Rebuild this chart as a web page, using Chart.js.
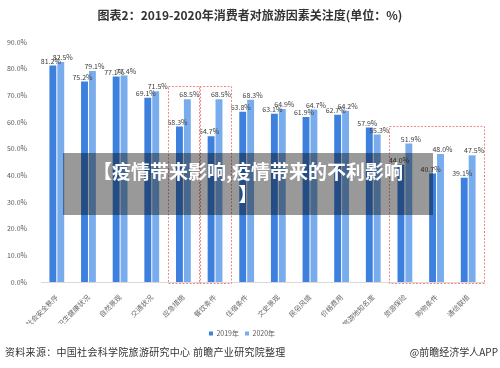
<!DOCTYPE html>
<html>
<head>
<meta charset="utf-8">
<script src="https://cdn.jsdelivr.net/npm/chart.js@4"></script>
<style>
  body { margin: 0; background: #fff; font-family: "Noto Sans CJK SC", sans-serif; }
  #page { position: relative; width: 500px; height: 368px; overflow: hidden; background: #fff; }
  #title { position: absolute; top: 6px; left: 0; width: 500px; text-align: center; font-size: 12px; font-weight: bold; color: #333; }
  #wrap { position: absolute; top: 0; left: 0; width: 500px; height: 347px; }
  #banner { position: absolute; left: 63px; top: 153px; width: 370px; height: 62px; background: rgba(0,0,0,0.4);
            color: #fff; font-weight: bold; font-size: 19px; line-height: 23px; text-align: center;
            box-sizing: border-box; padding: 6px 10px 0 10px; }
  #source { position: absolute; left: 5px; top: 344px; font-size: 10px; color: #333; letter-spacing: 0.3px; }
  #app { position: absolute; right: 2px; top: 344px; font-size: 10px; color: #333; }
</style>
</head>
<body>
<div id="page">
  <div id="wrap"><canvas id="chart"></canvas></div>
  <div id="title">图表2：2019-2020年消费者对旅游因素关注度(单位：%)</div>
  <div id="banner">【疫情带来影响,疫情带来的不利影响<br>】</div>
  <div id="source">资料来源：中国社会科学院旅游研究中心 前瞻产业研究院整理</div>
  <div id="app">@前瞻经济学人APP</div>
</div>
<script>
const categories = ["社会安全秩序", "卫生健康状况", "自然景观", "交通状况", "应急措施", "餐饮条件", "住宿条件",
  "文史景观", "民俗风情", "价格费用", "旅游地知名度", "旅游保险", "购物条件", "通信联络"];
const values2019 = [81.2, 75.2, 77.1, 69.1, 58.3, 54.7, 63.8, 63.1, 61.9, 62.7, 57.9, 44.0, 40.7, 39.1];
const values2020 = [82.5, 79.1, 77.4, 71.5, 68.5, 68.5, 68.3, 64.9, 64.7, 64.2, 55.3, 51.9, 48.0, 47.5];
const yTicks = [0, 10, 20, 30, 40, 50, 60, 70, 80, 90];

// highlighted groups: [first index, last index, top value]
const boxes = [[4, 4, 73.5], [5, 5, 73.5], [11, 13, 58.5]];

const font = "'Noto Sans CJK SC', sans-serif";

const labelPlugin = {
  id: "barLabels",
  afterDatasetsDraw(chart) {
    const ctx = chart.ctx;
    ctx.save();
    ctx.font = "7px " + font;
    ctx.fillStyle = "#404040";
    ctx.textAlign = "center";
    ctx.textBaseline = "bottom";
    chart.data.datasets.forEach((ds, i) => {
      const meta = chart.getDatasetMeta(i);
      meta.data.forEach((bar, j) => {
        const dx = i === 0 ? -2 : 2;
        ctx.fillText(ds.data[j].toFixed(1) + "%", bar.x + dx, bar.y - 1);
      });
    });
    ctx.restore();
  },
};

const boxPlugin = {
  id: "redBoxes",
  afterDatasetsDraw(chart) {
    const ctx = chart.ctx;
    const x = chart.scales.x;
    const y = chart.scales.y;
    const half = (x.getPixelForValue(1) - x.getPixelForValue(0)) / 2;
    ctx.save();
    ctx.strokeStyle = "#f08a8a";
    ctx.lineWidth = 1;
    ctx.setLineDash([2, 1.5]);
    boxes.forEach(([a, b, top]) => {
      const left = x.getPixelForValue(a) - half;
      const right = x.getPixelForValue(b) + half;
      const t = y.getPixelForValue(top);
      const bottom = y.getPixelForValue(0) + 1;
      ctx.strokeRect(Math.round(left) + 0.5, Math.round(t) + 0.5, Math.round(right - left), Math.round(bottom - t));
    });
    ctx.restore();
  },
};

new Chart(document.getElementById("chart"), {
  type: "bar",
  data: {
    labels: categories,
    datasets: [
      { label: "2019年", data: values2019, backgroundColor: "#3d80de", borderWidth: 0 },
      { label: "2020年", data: values2020, backgroundColor: "#78acec", borderWidth: 0 },
    ],
  },
  options: {
    responsive: true,
    maintainAspectRatio: false,
    animation: false,
    categoryPercentage: 0.5,
    barPercentage: 0.87,
    layout: { padding: { top: 42, left: 0, right: 16, bottom: 0 } },
    plugins: {
      legend: {
        position: "bottom",
        labels: { font: { size: 7, family: font }, color: "#595959", boxWidth: 4, boxHeight: 4, padding: 6 },
      },
      tooltip: { enabled: false },
    },
    scales: {
      x: {
        grid: { display: false },
        border: { color: "#d9d9d9" },
        ticks: { autoSkip: false, maxRotation: 45, minRotation: 45, font: { size: 7, family: font }, color: "#6a6a6a", padding: 3 },
        afterFit: (scale) => { scale.height = 42; },
      },
      y: {
        min: 0,
        max: 90,
        grid: { display: false },
        border: { display: false },
        afterBuildTicks: (scale) => { scale.ticks = yTicks.map((v) => ({ value: v })); },
        ticks: { font: { size: 7, family: font }, color: "#595959", padding: 6, callback: (v) => v.toFixed(1) + "%" },
        afterFit: (scale) => { scale.width = 41; },
      },
    },
  },
  plugins: [labelPlugin, boxPlugin],
});
</script>
</body>
</html>
